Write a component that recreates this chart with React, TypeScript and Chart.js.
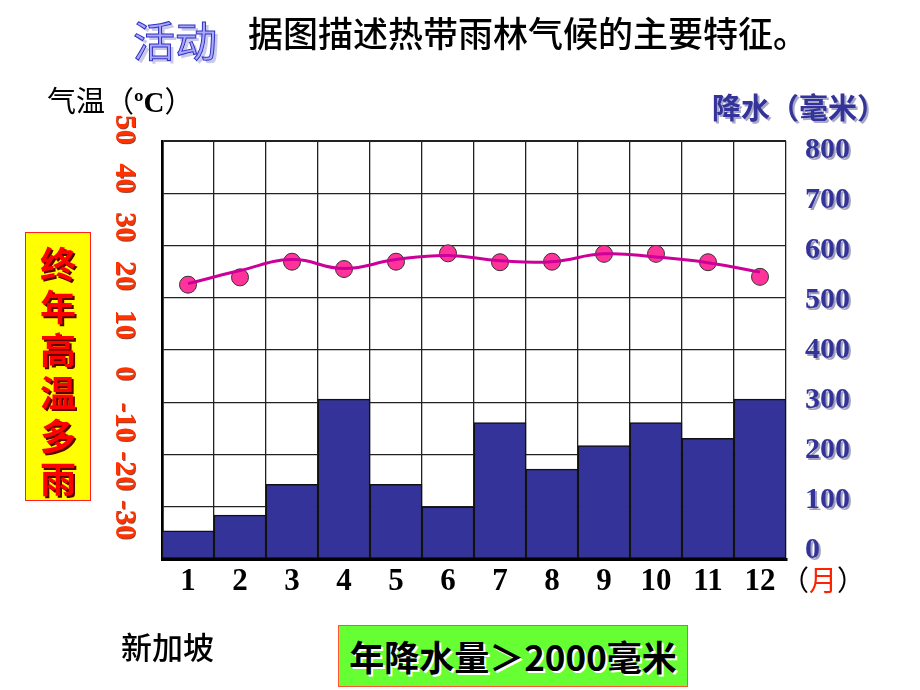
import React, { useEffect, useRef } from "react";
import { Chart, registerables } from "chart.js";

Chart.register(...registerables);

// ---- data ----
const months = ["1", "2", "3", "4", "5", "6", "7", "8", "9", "10", "11", "12"];
const precipitation = [54, 84, 143, 306, 143, 100, 261, 172, 217, 261, 231, 306];
const temperaturePoints = [22.5, 23.9, 26.9, 25.5, 26.9, 28.5, 26.8, 26.9, 28.4, 28.4, 26.8, 24.0];
const temperatureCurve = [22.7, 25.2, 27.3, 25.6, 27.3, 28.1, 27.1, 26.9, 28.4, 27.8, 26.7, 24.9];
const precipTicks = [800, 700, 600, 500, 400, 300, 200, 100, 0];
const tempTicks = [50, 40, 30, 20, 10, 0, -10, -20, -30];

const CJK = '"Noto Sans CJK SC", "Noto Sans", sans-serif';
const SERIF = '"Liberation Serif", "DejaVu Serif", serif';

const labelPlugin = {
  id: "customLabels",
  afterDraw(chart: any) {
    const { ctx, chartArea } = chart;
    const x = chart.scales.x;
    const yr = chart.scales.yr;
    const ytl = chart.scales.ytl;
    ctx.save();
    // month labels
    ctx.font = `bold 31px ${SERIF}`;
    ctx.fillStyle = "#000";
    ctx.textAlign = "center";
    ctx.textBaseline = "alphabetic";
    months.forEach((m, i) => {
      ctx.fillText(m, x.getPixelForValue(i), chartArea.bottom + 31);
    });
    // precipitation labels (right)
    ctx.font = `bold 30px ${SERIF}`;
    ctx.textAlign = "left";
    ctx.shadowColor = "rgba(150,150,180,0.9)";
    ctx.shadowOffsetX = 2;
    ctx.shadowOffsetY = 2;
    ctx.shadowBlur = 0;
    ctx.fillStyle = "#333399";
    precipTicks.forEach((v) => {
      ctx.fillText(String(v), chartArea.right + 19, yr.getPixelForValue(v) + 10.5);
    });
    // temperature labels (left, rotated)
    ctx.font = `bold 30px ${SERIF}`;
    ctx.fillStyle = "#ff3300";
    ctx.shadowColor = "rgba(120,20,0,0.8)";
    ctx.shadowOffsetX = 1;
    ctx.shadowOffsetY = 1;
    ctx.textAlign = "center";
    ctx.textBaseline = "middle";
    tempTicks.forEach((v) => {
      ctx.save();
      ctx.translate(chartArea.left - 38, ytl.getPixelForValue(v));
      ctx.rotate(Math.PI / 2);
      ctx.fillText(String(v), 0, 0);
      ctx.restore();
    });
    ctx.restore();
  },
};

export default function App() {
  const canvasRef = useRef<HTMLCanvasElement | null>(null);

  useEffect(() => {
    if (!canvasRef.current) return;
    const chart = new Chart(canvasRef.current, {
      type: "bar",
      data: {
        labels: months,
        datasets: [
          {
            type: "line",
            label: "气温曲线",
            data: temperatureCurve,
            yAxisID: "yt",
            borderColor: "#cc0099",
            borderWidth: 3,
            tension: 0.45,
            pointRadius: 0,
            fill: false,
            order: 1,
          } as any,
          {
            type: "line",
            label: "气温",
            data: temperaturePoints,
            yAxisID: "yt",
            showLine: false,
            pointRadius: 8.5,
            pointBackgroundColor: "#ff3399",
            pointBorderColor: "#333333",
            pointBorderWidth: 1,
            order: 2,
          } as any,
          {
            type: "bar",
            label: "降水",
            data: precipitation,
            yAxisID: "y",
            backgroundColor: "#333399",
            borderColor: "#111111",
            borderWidth: 1.5,
            borderSkipped: false,
            barPercentage: 1,
            categoryPercentage: 1,
            order: 3,
          },
        ],
      },
      options: {
        responsive: false,
        animation: false,
        layout: { padding: { left: 162, top: 141, right: 134, bottom: 131 } },
        plugins: { legend: { display: false }, tooltip: { enabled: false } },
        scales: {
          x: {
            type: "category",
            offset: true,
            grid: {
              offset: true,
              drawTicks: false,
              color: "#222222",
              lineWidth: (c: any) => (c.index === 0 || c.index === 12 ? 2.5 : 1.3),
            },
            ticks: { display: false },
            border: { display: true, color: "#000000", width: 3, z: 1 },
          },
          y: {
            type: "linear",
            position: "left",
            min: 0,
            max: 800,
            ticks: { display: false, stepSize: 100 },
            grid: {
              drawTicks: false,
              color: "#222222",
              lineWidth: (c: any) => (c.tick && c.tick.value === 800 ? 2 : 1.3),
            },
            border: { display: true, color: "#000000", width: 2.5 },
          },
          yt: { type: "linear", axis: "y", position: "left", min: -30, max: 50, display: false },
          ytl: { type: "linear", axis: "y", position: "left", min: -38.03, max: 47.62, display: false },
          yr: { type: "linear", axis: "y", position: "right", min: -24, max: 812, display: false },
        },
      } as any,
      plugins: [labelPlugin],
    });
    return () => chart.destroy();
  }, []);

  const abs = (s: React.CSSProperties): React.CSSProperties => ({ position: "absolute", margin: 0, whiteSpace: "nowrap", ...s });

  return (
    <div style={{ position: "absolute", left: 0, top: 0, width: 920, height: 690, background: "#ffffff", overflow: "hidden" }}>
      <canvas ref={canvasRef} width={920} height={690} style={{ position: "absolute", left: 0, top: 0, width: 920, height: 690 }} />
      <div
        style={abs({
          left: 133,
          top: 16,
          fontFamily: CJK,
          fontSize: 42,
          lineHeight: "46px",
          color: "#a8a8ff",
          WebkitTextStroke: "1px #3030c0",
          textShadow: "3px 3px 0 #c8c8e8",
        } as any)}
      >
        活动
      </div>
      <div style={abs({ left: 248, top: 12, fontFamily: CJK, fontSize: 35, lineHeight: "40px", fontWeight: 500, color: "#000" })}>
        据图描述热带雨林气候的主要特征。
      </div>
      <div style={abs({ left: 47, top: 82, fontFamily: CJK, fontSize: 29, lineHeight: "34px", color: "#000" })}>
        气温（<span style={{ fontFamily: SERIF, fontWeight: "bold" }}>ºC</span>）
      </div>
      <div
        style={abs({
          left: 712,
          top: 89,
          fontFamily: CJK,
          fontSize: 29,
          lineHeight: "34px",
          fontWeight: "bold",
          color: "#333399",
          textShadow: "2px 2px 0 #a8a8c8",
        })}
      >
        降水（毫米）
      </div>
      <div
        style={abs({
          left: 25,
          top: 232,
          width: 64,
          height: 259,
          background: "#ffff00",
          border: "1px solid #ff2020",
          paddingTop: 8,
          boxSizing: "content-box",
        })}
      >
        {"终年高温多雨".split("").map((ch, i) => (
          <div
            key={i}
            style={{
              fontFamily: CJK,
              fontSize: 36,
              lineHeight: "43px",
              fontWeight: "bold",
              color: "#ff0000",
              textAlign: "center",
              textShadow: "2px 2px 0 #5a0000",
            }}
          >
            {ch}
          </div>
        ))}
      </div>
      <div style={abs({ left: 781, top: 561, fontFamily: CJK, fontSize: 28, lineHeight: "36px", color: "#000" })}>
        （<span style={{ color: "#ff2200" }}>月</span>）
      </div>
      <div style={abs({ left: 121, top: 628, fontFamily: CJK, fontSize: 31, lineHeight: "36px", fontWeight: 500, color: "#000" })}>
        新加坡
      </div>
      <div
        style={abs({
          left: 338,
          top: 625,
          width: 348,
          height: 60,
          background: "#66ff33",
          border: "1px solid #ff5533",
          fontFamily: CJK,
          fontSize: 35,
          lineHeight: "60px",
          fontWeight: "bold",
          color: "#000",
          textAlign: "center",
          textShadow: "2px 2px 0 #ffffff",
        })}
      >
        年降水量＞2000毫米
      </div>
    </div>
  );
}
